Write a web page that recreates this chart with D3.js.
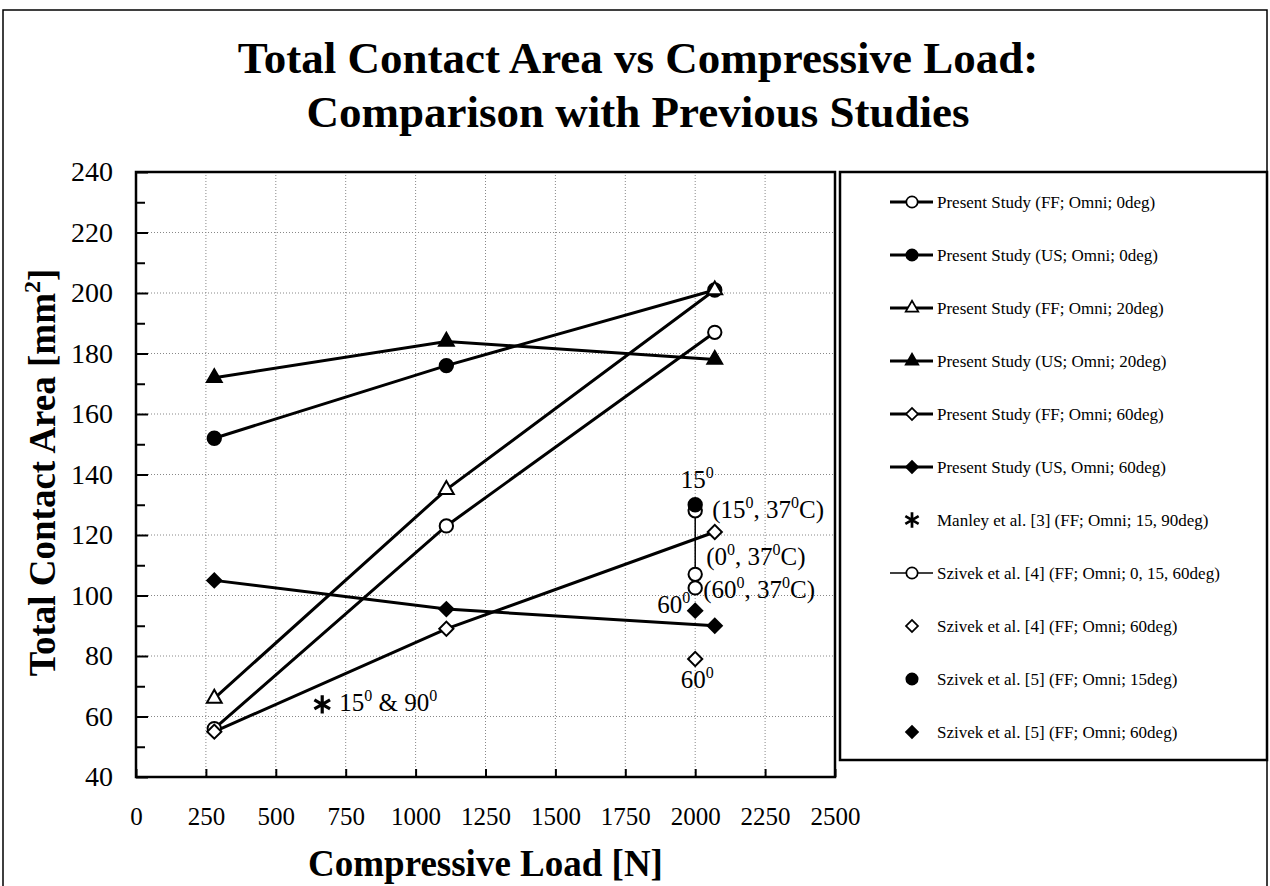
<!DOCTYPE html>
<html>
<head>
<meta charset="utf-8">
<script src="https://cdn.jsdelivr.net/npm/d3@7"></script>
<style>
  body { margin: 0; background: #fff; }
  svg text { font-family: "Liberation Serif", "Times New Roman", serif; fill: #000; }
</style>
</head>
<body>
<svg id="chart" width="1270" height="886"></svg>
<script>
// ---- data ----
const titleLines = ["Total Contact Area vs Compressive Load:", "Comparison with Previous Studies"];
const xTicks = [0, 250, 500, 750, 1000, 1250, 1500, 1750, 2000, 2250, 2500];
const yTicks = [40, 60, 80, 100, 120, 140, 160, 180, 200, 220, 240];
const yMinor = [50, 70, 90, 110, 130, 150, 170, 190, 210, 230];

const loadPresent = [280, 1110, 2070];
const ffOmni0 = [56, 123, 187];
const usOmni0 = [152, 176, 201];
const ffOmni20 = [66, 135, 201];
const usOmni20 = [172, 184, 178];
const ffOmni60 = [55, 89, 121];
const usOmni60 = [105, 95.5, 90];

const manleyLoad = [666];
const manleyArea = [64];
const szivek4Load = [2000, 2000, 2000];
const szivek4Area = [128, 107, 102.5];
const szivek4DiamondLoad = [2000];
const szivek4DiamondArea = [79];
const szivek5CircleLoad = [2000];
const szivek5CircleArea = [130];
const szivek5DiamondLoad = [2000];
const szivek5DiamondArea = [95];

const legendLabels = [
  "Present Study (FF; Omni; 0deg)",
  "Present Study (US; Omni; 0deg)",
  "Present Study (FF; Omni; 20deg)",
  "Present Study (US; Omni; 20deg)",
  "Present Study (FF; Omni; 60deg)",
  "Present Study (US, Omni; 60deg)",
  "Manley et al. [3] (FF; Omni; 15, 90deg)",
  "Szivek et al. [4]  (FF; Omni; 0, 15, 60deg)",
  "Szivek et al. [4] (FF; Omni; 60deg)",
  "Szivek et al. [5] (FF; Omni; 15deg)",
  "Szivek et al. [5] (FF; Omni; 60deg)"
];

// ---- layout ----
const svg = d3.select("#chart");
const plot = {left: 136, right: 835, top: 172, bottom: 777};

const x = d3.scaleLinear().domain([0, 2500]).range([plot.left, plot.right]);
const y = d3.scaleLinear().domain([40, 240]).range([plot.bottom, plot.top]);

// outer frame
svg.append("path")
  .attr("d", "M3,886V10H1267V886")
  .attr("fill", "none").attr("stroke", "#000").attr("stroke-width", 1.5);

// title
svg.append("g").selectAll("text").data(titleLines).join("text")
  .attr("x", 638)
  .attr("y", (d, i) => i === 0 ? 73 : 127)
  .attr("text-anchor", "middle")
  .style("font-size", "45px").style("font-weight", "bold")
  .text(d => d);

// gridlines
const grid = svg.append("g").attr("stroke", "#888").attr("stroke-width", 1).attr("stroke-dasharray", "1,2");
grid.selectAll("line.v").data(xTicks.slice(1, -1)).join("line")
  .attr("x1", d => x(d)).attr("x2", d => x(d))
  .attr("y1", plot.top).attr("y2", plot.bottom);
grid.selectAll("line.h").data(yTicks.slice(1, -1)).join("line")
  .attr("x1", plot.left).attr("x2", plot.right)
  .attr("y1", d => y(d)).attr("y2", d => y(d));

// axes
const yAxis = svg.append("g").attr("transform", `translate(${plot.left},0)`)
  .call(d3.axisLeft(y).tickValues(yTicks).tickSizeInner(-12).tickSizeOuter(0).tickPadding(23).tickFormat(d3.format("d")));
svg.append("g").attr("transform", `translate(${plot.left},0)`)
  .call(d3.axisLeft(y).tickValues(yMinor).tickSizeInner(-9).tickSizeOuter(0).tickFormat(""));
const xAxis = svg.append("g").attr("transform", `translate(0,${plot.bottom})`)
  .call(d3.axisBottom(x).tickValues(xTicks).tickSizeInner(-8).tickSizeOuter(0).tickPadding(30).tickFormat(d3.format("d")));

svg.selectAll(".domain").remove();
svg.selectAll(".tick line").attr("stroke", "#000").attr("stroke-width", 2);
yAxis.selectAll("text").style("font-size", "28px").style("font-family", null);
xAxis.selectAll("text").style("font-size", "25px").style("font-family", null);

// plot border
svg.append("rect")
  .attr("x", plot.left).attr("y", plot.top)
  .attr("width", plot.right - plot.left).attr("height", plot.bottom - plot.top)
  .attr("fill", "none").attr("stroke", "#000").attr("stroke-width", 2.5);

// axis titles
svg.append("text")
  .attr("x", (plot.left + plot.right) / 2).attr("y", 876)
  .attr("text-anchor", "middle")
  .style("font-size", "37px").style("font-weight", "bold")
  .text("Compressive Load [N]");

const yTitle = svg.append("text")
  .attr("transform", `translate(55,${(plot.top + plot.bottom) / 2 - 2}) rotate(-90)`)
  .attr("text-anchor", "middle")
  .style("font-size", "37px").style("font-weight", "bold");
yTitle.append("tspan").text("Total Contact Area [mm");
yTitle.append("tspan").attr("dy", -15).style("font-size", "24px").text("2");
yTitle.append("tspan").attr("dy", 15).text("]");

// ---- marks ----
const symbols = {
  circle: d3.symbol().type(d3.symbolCircle).size(140),
  triangle: d3.symbol().type(d3.symbolTriangle).size(95),
  diamond: d3.symbol().type(d3.symbolSquare).size(100),
  star: d3.symbol().type(d3.symbolAsterisk).size(230)
};

const series = [
  {xs: loadPresent, ys: ffOmni0, sym: "circle", fill: "#fff", line: 3},
  {xs: loadPresent, ys: usOmni0, sym: "circle", fill: "#000", line: 3},
  {xs: loadPresent, ys: ffOmni20, sym: "triangle", fill: "#fff", line: 3},
  {xs: loadPresent, ys: usOmni20, sym: "triangle", fill: "#000", line: 3},
  {xs: loadPresent, ys: ffOmni60, sym: "diamond", fill: "#fff", line: 3},
  {xs: loadPresent, ys: usOmni60, sym: "diamond", fill: "#000", line: 3},
  {xs: manleyLoad, ys: manleyArea, sym: "star", fill: "none", line: 0},
  {xs: szivek4Load, ys: szivek4Area, sym: "circle", fill: "#fff", line: 1.5},
  {xs: szivek4DiamondLoad, ys: szivek4DiamondArea, sym: "diamond", fill: "#fff", line: 0},
  {xs: szivek5CircleLoad, ys: szivek5CircleArea, sym: "circle", fill: "#000", line: 0},
  {xs: szivek5DiamondLoad, ys: szivek5DiamondArea, sym: "diamond", fill: "#000", line: 0}
];

function drawMarker(g, s, cx, cy, k) {
  const sc = k ? ` scale(${k})` : "";
  return g.append("path")
    .attr("d", symbols[s.sym]())
    .attr("transform", `translate(${cx},${cy})` + (s.sym === "diamond" ? " rotate(45)" : "") + sc)
    .attr("fill", s.fill)
    .attr("stroke", "#000")
    .attr("stroke-width", s.sym === "star" ? 3.2 : 2);
}

const lineGen = d3.line().x(d => x(d[0])).y(d => y(d[1]));
const marks = svg.append("g");
series.forEach(s => {
  if (s.line > 0) {
    marks.append("path")
      .datum(s.xs.map((v, i) => [v, s.ys[i]]))
      .attr("d", lineGen)
      .attr("fill", "none").attr("stroke", "#000").attr("stroke-width", s.line);
  }
});
series.forEach(s => {
  s.xs.forEach((v, i) => drawMarker(marks, s, x(v), y(s.ys[i])));
});

// ---- annotations with superscript degrees ----
function annotate(px, py, parts, anchor) {
  const t = svg.append("text").attr("x", px).attr("y", py)
    .attr("text-anchor", anchor || "start").style("font-size", "25px");
  let up = false;
  parts.forEach(p => {
    const sup = p.startsWith("^");
    const txt = sup ? p.slice(1) : p;
    const ts = t.append("tspan").text(txt);
    if (sup && !up) { ts.attr("dy", -10).style("font-size", "16px"); up = true; }
    else if (sup) { ts.style("font-size", "16px"); }
    else if (up) { ts.attr("dy", 10); up = false; }
  });
  return t;
}

annotate(x(2000) + 2, y(130) - 17, ["15", "^0"], "middle");
annotate(x(2000) + 17, y(128) + 7, ["(15", "^0", ", 37", "^0", "C)"]);
annotate(x(2000) + 11, y(107) - 9, ["(0", "^0", ", 37", "^0", "C)"]);
annotate(x(2000) + 8, y(102.5) + 10, ["(60", "^0", ", 37", "^0", "C)"]);
annotate(x(2000) - 5, y(95) + 2, ["60", "^0"], "end");
annotate(x(2000) + 2, y(79) + 29, ["60", "^0"], "middle");
annotate(x(666) + 17, y(64) + 7, ["15", "^0", " & 90", "^0"]);

// ---- legend ----
const legend = svg.append("g");
legend.append("rect")
  .attr("x", 840).attr("y", plot.top)
  .attr("width", 1267 - 840).attr("height", 760 - plot.top)
  .attr("fill", "#fff").attr("stroke", "#000").attr("stroke-width", 2.5);

legendLabels.forEach((label, i) => {
  const s = series[i];
  const ly = 202 + 53 * i;
  if (s.line > 0) {
    legend.append("line")
      .attr("x1", 890).attr("x2", 933).attr("y1", ly).attr("y2", ly)
      .attr("stroke", "#000").attr("stroke-width", s.line);
  }
  drawMarker(legend, s, 912, ly, 0.85);
  legend.append("text")
    .attr("x", 937).attr("y", ly + 6)
    .style("font-size", "17px")
    .text(label);
});
</script>
</body>
</html>
